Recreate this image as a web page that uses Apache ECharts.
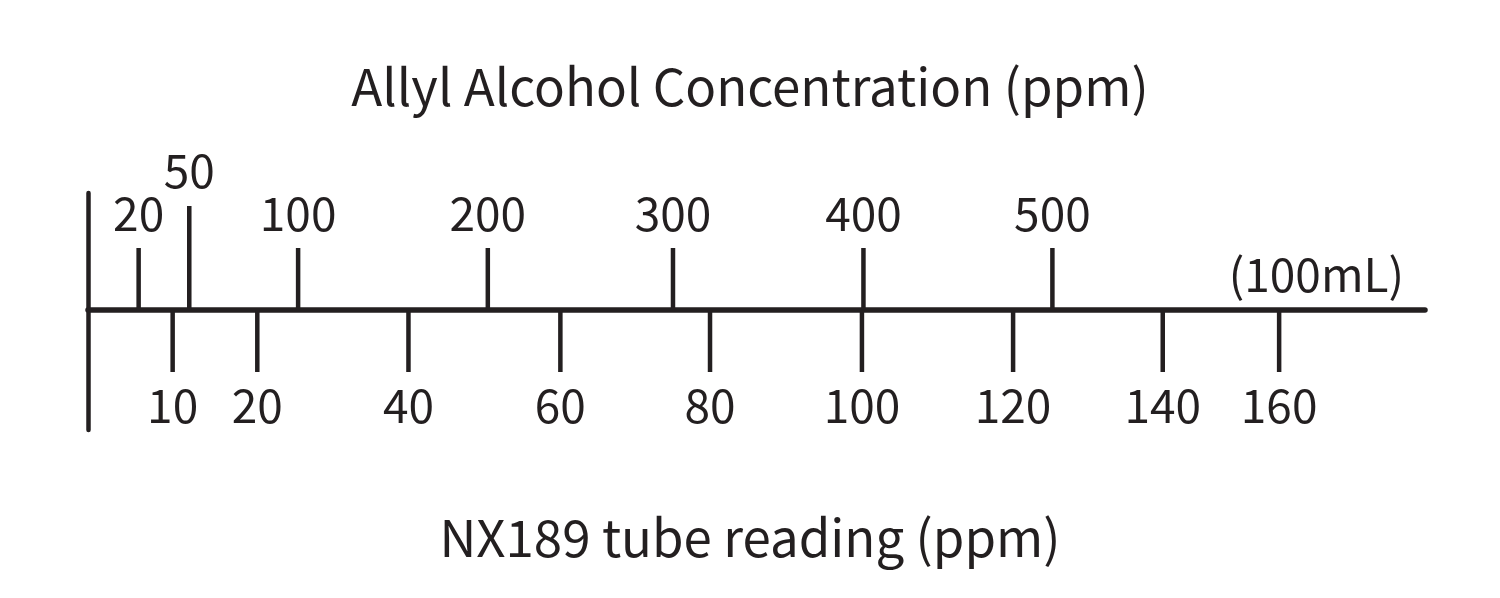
<!DOCTYPE html>
<html>
<head>
<meta charset="utf-8">
<title>Allyl Alcohol</title>
<script src="https://cdn.jsdelivr.net/npm/echarts@6/dist/echarts.min.js"></script>
<style>
html, body { margin: 0; padding: 0; background: #fff; }
#scale { width: 1500px; height: 598px; }
</style>
</head>
<body>
<div id="scale"></div>
<script>
// actual concentration (ppm) and where it sits on the tube scale
var concLabels = [20, 50, 100, 200, 300, 400, 500];
var concOnTube = [4.3, 11.0, 25.4, 50.5, 75.0, 100.2, 125.2];
// printed tube reading (ppm) and its mark on the tube scale
var tubeLabels = [10, 20, 40, 60, 80, 100, 120, 140, 160];
var tubeMarks = [8.8, 20, 40, 60.1, 79.9, 100, 120, 139.8, 155.2];

var INK = '#231f20';
var FONT = "'Noto Sans CJK JP', 'Noto Sans', sans-serif";

function tickItem(up) {
    return function(params, api) {
        var p = api.coord([api.value(0), 0]);
        var lab = api.value(1);
        var len = 62, gap = 96;
        if (up && lab === 50) { len = 104; gap = 139; }
        var dir = up ? -1 : 1;
        return {
            type: 'group',
            children: [{
                type: 'line',
                shape: { x1: p[0], y1: p[1], x2: p[0], y2: p[1] + dir * len },
                style: { stroke: INK, lineWidth: 4.5 }
            }, {
                type: 'text',
                style: {
                    text: String(lab),
                    x: p[0],
                    y: p[1] + dir * gap,
                    fill: INK,
                    fontSize: 46,
                    fontFamily: FONT,
                    align: 'center',
                    verticalAlign: 'middle'
                }
            }]
        };
    };
}

function initScale() {
    var chart = echarts.init(document.getElementById('scale'));

    var option = {
        backgroundColor: '#fff',
        animation: false,
        title: [{
            text: 'Allyl Alcohol Concentration (ppm)',
            left: 'center',
            top: 56,
            textStyle: { color: INK, fontSize: 51, fontWeight: 'normal', fontFamily: FONT }
        }, {
            text: 'NX189 tube reading (ppm)',
            left: 'center',
            top: 507,
            textStyle: { color: INK, fontSize: 51, fontWeight: 'normal', fontFamily: FONT }
        }, {
            text: '(100mL)',
            right: 96,
            top: 252,
            padding: 0,
            textStyle: { color: INK, fontSize: 46, fontWeight: 'normal', fontFamily: FONT }
        }],
        grid: { left: 88, right: 75, top: 193, bottom: 168 },
        xAxis: {
            type: 'value',
            min: -2.4,
            max: 174.5,
            axisLine: { onZero: true, lineStyle: { color: INK, width: 5.5 } },
            axisTick: { show: false },
            axisLabel: { show: false },
            splitLine: { show: false }
        },
        yAxis: {
            type: 'value',
            min: -120,
            max: 117,
            axisLine: { show: true, onZero: false, lineStyle: { color: INK, width: 4.5 } },
            axisTick: { show: false },
            axisLabel: { show: false },
            splitLine: { show: false }
        },
        series: [{
            name: 'concentration',
            type: 'custom',
            clip: false,
            renderItem: tickItem(true),
            data: concLabels.map(function(v, i) { return [concOnTube[i], v]; })
        }, {
            name: 'tube reading',
            type: 'custom',
            clip: false,
            renderItem: tickItem(false),
            data: tubeLabels.map(function(v, i) { return [tubeMarks[i], v]; })
        }]
    };

    chart.setOption(option);
}

initScale();
</script>
</body>
</html>
